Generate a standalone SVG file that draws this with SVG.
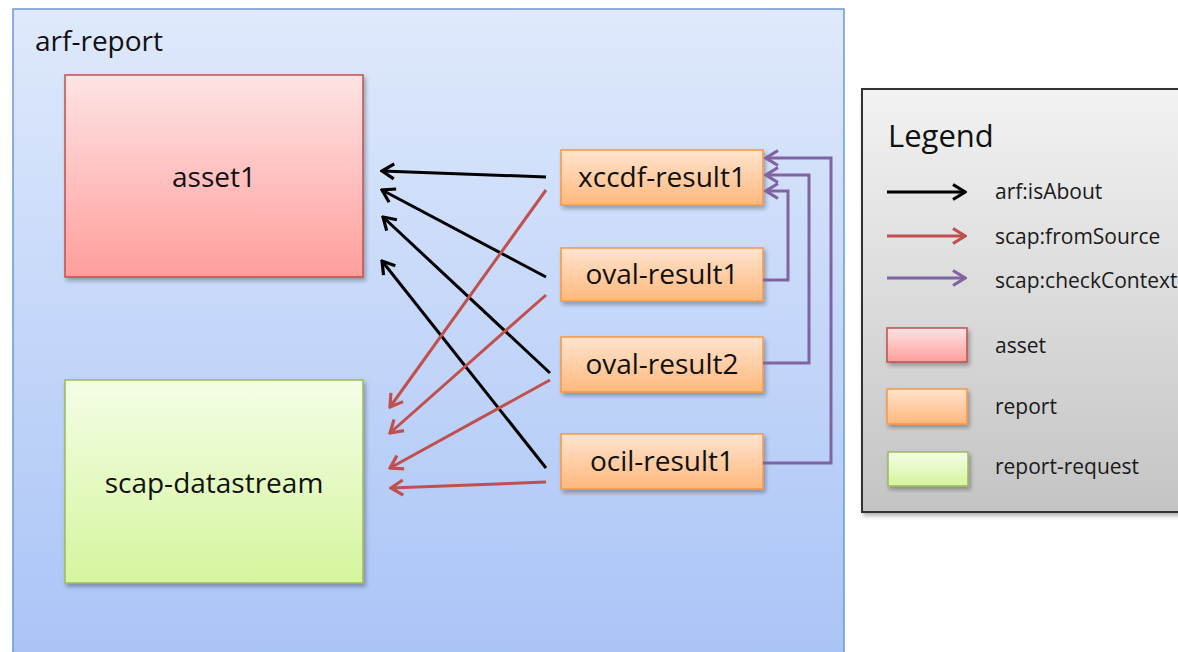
<svg xmlns="http://www.w3.org/2000/svg" width="1178" height="652" viewBox="0 0 1178 652">
<defs>
<linearGradient id="gBlue" x1="0" y1="0" x2="0" y2="1"><stop offset="0" stop-color="#dfe9fb"/><stop offset="1" stop-color="#a5c1f6"/></linearGradient>
<linearGradient id="gRed" x1="0" y1="0" x2="0" y2="1"><stop offset="0" stop-color="#fde4e4"/><stop offset="1" stop-color="#ff9e9c"/></linearGradient>
<linearGradient id="gGreen" x1="0" y1="0" x2="0" y2="1"><stop offset="0" stop-color="#f4fde6"/><stop offset="1" stop-color="#d5f59e"/></linearGradient>
<linearGradient id="gOrange" x1="0" y1="0" x2="0" y2="1"><stop offset="0" stop-color="#ffe4cf"/><stop offset="1" stop-color="#ffb87c"/></linearGradient>
<linearGradient id="gGray" x1="0" y1="0" x2="0" y2="1"><stop offset="0" stop-color="#f2f2f2"/><stop offset="1" stop-color="#c4c4c4"/></linearGradient>
<filter id="sh" x="-10%" y="-10%" width="130%" height="130%"><feDropShadow dx="2" dy="3" stdDeviation="2" flood-color="#000" flood-opacity="0.3"/></filter>
<marker id="mBlack" markerUnits="userSpaceOnUse" viewBox="-16 -10 18 20" markerWidth="18" markerHeight="20" refX="0" refY="0" orient="auto"><path d="M-12,-7.5 L0,0 L-12,7.5" fill="none" stroke="#000" stroke-width="3.2"/></marker>
<marker id="mRed" markerUnits="userSpaceOnUse" viewBox="-16 -10 18 20" markerWidth="18" markerHeight="20" refX="0" refY="0" orient="auto"><path d="M-12,-7.5 L0,0 L-12,7.5" fill="none" stroke="#c0504d" stroke-width="3.2"/></marker>
<marker id="mPurple" markerUnits="userSpaceOnUse" viewBox="-16 -10 18 20" markerWidth="18" markerHeight="20" refX="0" refY="0" orient="auto"><path d="M-12,-7.5 L0,0 L-12,7.5" fill="none" stroke="#8064a2" stroke-width="3.2"/></marker>
</defs>
<style>
text{font-family:"Open Sans","Noto Sans","Liberation Sans",sans-serif;fill:#111;}
.lbl{font-size:28px;text-anchor:middle;}
.leg{font-size:21px;fill:#1a1a1a;}
.rep{fill:url(#gOrange);stroke:#f79646;stroke-width:1.5;filter:url(#sh);}
.blk{stroke:#000;stroke-width:3;fill:none;marker-end:url(#mBlack);}
.red{stroke:#c0504d;stroke-width:3;fill:none;marker-end:url(#mRed);}
.pur{stroke:#8064a2;stroke-width:3;fill:none;marker-end:url(#mPurple);}
</style>
<rect width="1178" height="652" fill="#fff"/>
<g id="arf-report">
<rect x="13" y="9" width="831" height="700" fill="url(#gBlue)" stroke="#6b98d4" stroke-width="1.5"/>
<text x="35" y="51" style="font-size:28px">arf-report</text>
</g>
<g id="asset1">
<rect x="65" y="75" width="298" height="202" fill="url(#gRed)" stroke="#c0504d" stroke-width="1.5" filter="url(#sh)"/>
<text class="lbl" x="214" y="187">asset1</text>
</g>
<g id="scap-datastream">
<rect x="65" y="380" width="298" height="203" fill="url(#gGreen)" stroke="#9bbb59" stroke-width="1.5" filter="url(#sh)"/>
<text class="lbl" x="214" y="493">scap-datastream</text>
</g>
<g id="xccdf-result1">
<rect class="rep" x="561" y="150" width="202" height="55"/>
<text class="lbl" x="662" y="187">xccdf-result1</text>
</g>
<g id="oval-result1">
<rect class="rep" x="561" y="248" width="202" height="53"/>
<text class="lbl" x="662" y="284">oval-result1</text>
</g>
<g id="oval-result2">
<rect class="rep" x="561" y="337" width="202" height="55"/>
<text class="lbl" x="662" y="374">oval-result2</text>
</g>
<g id="ocil-result1">
<rect class="rep" x="561" y="434" width="202" height="55"/>
<text class="lbl" x="662" y="471">ocil-result1</text>
</g>
<g id="connectors">
<line class="blk" x1="546" y1="177" x2="382" y2="171"/>
<line class="blk" x1="546" y1="277" x2="382" y2="190"/>
<line class="blk" x1="550" y1="373" x2="383" y2="217"/>
<line class="blk" x1="546" y1="468" x2="382" y2="261"/>
<line class="red" x1="546" y1="190" x2="390" y2="407"/>
<line class="red" x1="546" y1="295" x2="390" y2="433"/>
<line class="red" x1="550" y1="380" x2="390" y2="468"/>
<line class="red" x1="546" y1="482" x2="391" y2="488"/>
<path class="pur" d="M763,463 H831 V158 H766"/>
<path class="pur" d="M763,363 H809 V175 H766"/>
<path class="pur" d="M763,280 H788 V191 H766"/>
</g>
<g id="legend">
<rect x="862" y="89" width="330" height="423" fill="url(#gGray)" stroke="#333" stroke-width="2" filter="url(#sh)"/>
<text x="888" y="147" style="font-size:31px">Legend</text>
<line class="blk" x1="887" y1="192" x2="965" y2="192"/>
<text class="leg" x="995" y="199">arf:isAbout</text>
<line class="red" x1="887" y1="236" x2="965" y2="236"/>
<text class="leg" x="995" y="244">scap:fromSource</text>
<line class="pur" x1="887" y1="278" x2="965" y2="278"/>
<text class="leg" x="995" y="288">scap:checkContext</text>
<rect x="887" y="328" width="80" height="34" fill="url(#gRed)" stroke="#c0504d" stroke-width="1.5" filter="url(#sh)"/>
<text class="leg" x="995" y="353">asset</text>
<rect x="887" y="389" width="80" height="35" fill="url(#gOrange)" stroke="#f79646" stroke-width="1.5" filter="url(#sh)"/>
<text class="leg" x="995" y="414">report</text>
<rect x="888" y="452" width="80" height="34" fill="url(#gGreen)" stroke="#9bbb59" stroke-width="1.5" filter="url(#sh)"/>
<text class="leg" x="995" y="474">report-request</text>
</g>
</svg>
